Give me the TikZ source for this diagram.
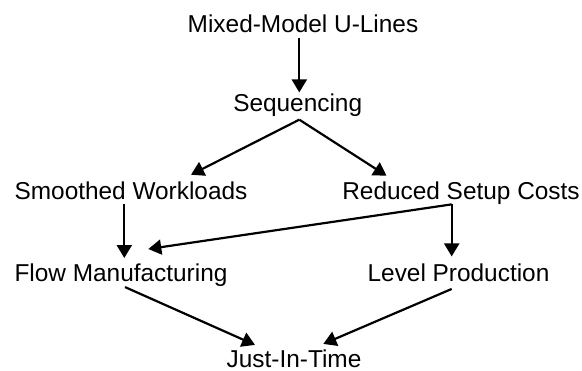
\documentclass[tikz,border=0pt]{standalone}
\usepackage{fontspec}
\setmainfont{Liberation Sans}
\usetikzlibrary{arrows.meta}

\begin{document}
\begin{tikzpicture}[
x=0.5pt, y=-0.5pt,
>={Triangle[length=6.5pt,width=7.5pt]},
every node/.style={font=\fontsize{12.2}{14}\selectfont, inner sep=2pt, anchor=base}
]

\useasboundingbox (0,0) rectangle (582,370);

\node (mixed) at (303,32) {Mixed-Model U-Lines};

\node (seq) at (297.7,111.7) {Sequencing};

\node (smooth) at (131,199.3) {Smoothed Workloads};

\node (setup) at (461,199.3) {Reduced Setup Costs};

\node (flow) at (121,281) {Flow Manufacturing};

\node (level) at (458.5,281.5) {Level Production};

\node (jit) at (294,367) {Just-In-Time};

\draw[->, line width=1.1pt] ([xshift=-1.85pt,yshift=-0.5pt]mixed.south) -- ([xshift=0.8pt,yshift=-1.4pt]seq.north);
\draw[->, line width=1.1pt] ([xshift=0.8pt,yshift=0.75pt]seq.south) -- ([xshift=30pt,yshift=1.25pt]smooth.north);
\draw[->, line width=1.1pt] ([xshift=0.8pt,yshift=0.75pt]seq.south) -- ([xshift=-37.25pt,yshift=0.75pt]setup.north);
\draw[->, line width=1.1pt] ([xshift=-3.35pt]smooth.south) -- ([xshift=1.65pt,yshift=0.45pt]flow.north);
\draw[->, line width=1.1pt] ([xshift=-4.65pt,yshift=2.2pt]setup.south) -- ([xshift=-3.4pt,yshift=1.5pt]level.north);
\draw[->, line width=1.1pt] ([xshift=-4.65pt,yshift=2.2pt]setup.south) -- ([xshift=13.65pt,yshift=4.95pt]flow.north);
\draw[->, line width=1.1pt] ([xshift=2pt,yshift=1.7pt]flow.south) -- ([xshift=-19.5pt]jit.north);
\draw[->, line width=1.1pt] ([xshift=-3.4pt,yshift=-1.4pt]level.south) -- ([xshift=14.65pt,yshift=0.5pt]jit.north);

\end{tikzpicture}
\end{document}
